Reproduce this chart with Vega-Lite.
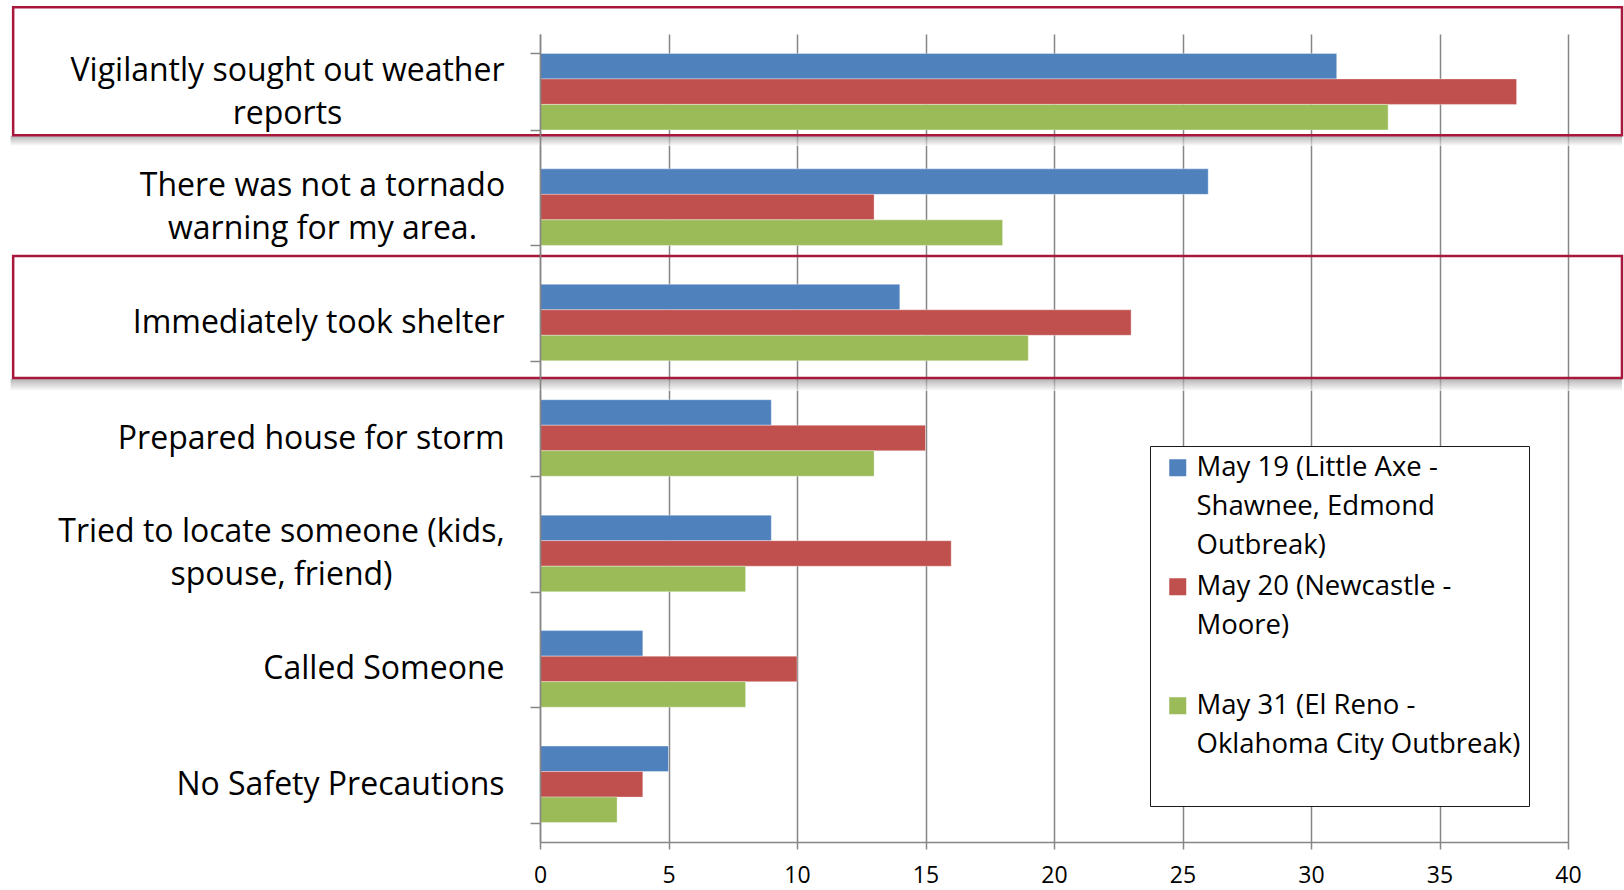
{
  "$schema": "https://vega.github.io/schema/vega-lite/v6.json",
  "width": 1028,
  "height": 808,
  "autosize": {"type": "none"},
  "padding": {"left": 540, "top": 34, "right": 56, "bottom": 48},
  "background": "white",
  "config": {
    "view": {"stroke": null},
    "font": "Open Sans",
    "style": {"guide-label": {"lineHeight": 39}}
  },
  "datasets": {
    "responses": [
      {"item": "Vigilantly sought out weather reports", "series": "May 19 (Little Axe - Shawnee, Edmond Outbreak)", "count": 31},
      {"item": "Vigilantly sought out weather reports", "series": "May 20 (Newcastle - Moore)", "count": 38},
      {"item": "Vigilantly sought out weather reports", "series": "May 31 (El Reno - Oklahoma City Outbreak)", "count": 33},
      {"item": "There was not a tornado warning for my area.", "series": "May 19 (Little Axe - Shawnee, Edmond Outbreak)", "count": 26},
      {"item": "There was not a tornado warning for my area.", "series": "May 20 (Newcastle - Moore)", "count": 13},
      {"item": "There was not a tornado warning for my area.", "series": "May 31 (El Reno - Oklahoma City Outbreak)", "count": 18},
      {"item": "Immediately took shelter", "series": "May 19 (Little Axe - Shawnee, Edmond Outbreak)", "count": 14},
      {"item": "Immediately took shelter", "series": "May 20 (Newcastle - Moore)", "count": 23},
      {"item": "Immediately took shelter", "series": "May 31 (El Reno - Oklahoma City Outbreak)", "count": 19},
      {"item": "Prepared house for storm", "series": "May 19 (Little Axe - Shawnee, Edmond Outbreak)", "count": 9},
      {"item": "Prepared house for storm", "series": "May 20 (Newcastle - Moore)", "count": 15},
      {"item": "Prepared house for storm", "series": "May 31 (El Reno - Oklahoma City Outbreak)", "count": 13},
      {"item": "Tried to locate someone (kids, spouse, friend)", "series": "May 19 (Little Axe - Shawnee, Edmond Outbreak)", "count": 9},
      {"item": "Tried to locate someone (kids, spouse, friend)", "series": "May 20 (Newcastle - Moore)", "count": 16},
      {"item": "Tried to locate someone (kids, spouse, friend)", "series": "May 31 (El Reno - Oklahoma City Outbreak)", "count": 8},
      {"item": "Called Someone", "series": "May 19 (Little Axe - Shawnee, Edmond Outbreak)", "count": 4},
      {"item": "Called Someone", "series": "May 20 (Newcastle - Moore)", "count": 10},
      {"item": "Called Someone", "series": "May 31 (El Reno - Oklahoma City Outbreak)", "count": 8},
      {"item": "No Safety Precautions", "series": "May 19 (Little Axe - Shawnee, Edmond Outbreak)", "count": 5},
      {"item": "No Safety Precautions", "series": "May 20 (Newcastle - Moore)", "count": 4},
      {"item": "No Safety Precautions", "series": "May 31 (El Reno - Oklahoma City Outbreak)", "count": 3}
    ],
    "box1": [{"item": "Vigilantly sought out weather reports"}],
    "box2": [{"item": "Immediately took shelter"}]
  },
  "layer": [
    {
      "data": {"name": "box1"},
      "mark": {"type": "rect", "height": 10, "yOffset": 49.4, "color": {"gradient": "linear", "x1": 0, "y1": 0, "x2": 0, "y2": 1, "stops": [{"offset": 0, "color": "#8f8f8f"}, {"offset": 1, "color": "#ffffff"}]}, "opacity": 0.65},
      "encoding": {
        "y": {"field": "item", "type": "nominal"},
        "x": {"datum": -20.6},
        "x2": {"datum": 42.1}
      }
    },
    {
      "data": {"name": "box2"},
      "mark": {"type": "rect", "height": 12, "yOffset": 62.5, "color": {"gradient": "linear", "x1": 0, "y1": 0, "x2": 0, "y2": 1, "stops": [{"offset": 0, "color": "#8f8f8f"}, {"offset": 1, "color": "#ffffff"}]}, "opacity": 0.65},
      "encoding": {
        "y": {"field": "item", "type": "nominal"},
        "x": {"datum": -20.6},
        "x2": {"datum": 42.1}
      }
    },
    {
      "data": {"name": "responses"},
      "mark": {"type": "bar", "stroke": "white", "strokeOpacity": 0.35, "strokeWidth": 1},
      "encoding": {
        "y": {
          "field": "item",
          "type": "nominal",
          "sort": null,
          "scale": {
            "domain": [
              "Vigilantly sought out weather reports",
              "There was not a tornado warning for my area.",
              "Immediately took shelter",
              "Prepared house for storm",
              "Tried to locate someone (kids, spouse, friend)",
              "Called Someone",
              "No Safety Precautions"
            ],
            "paddingInner": 0.337,
            "paddingOuter": 0.168
          },
          "axis": {
            "title": null,
            "tickBand": "extent",
            "ticks": true,
            "tickSize": 10,
            "tickColor": "#868686",
            "tickWidth": 1.5,
            "domainColor": "#868686",
            "domainWidth": 1.5,
            "grid": false,
            "labelFont": "Open Sans",
            "labelFontSize": 32,
            "labelColor": "black",
            "labelLimit": 700,
            "labelLineHeight": 43,
            "labelExpr": "datum.value == 'Vigilantly sought out weather reports' ? ['Vigilantly sought out weather', 'reports'] : datum.value == 'There was not a tornado warning for my area.' ? ['There was not a tornado', 'warning for my area.'] : datum.value == 'Tried to locate someone (kids, spouse, friend)' ? ['Tried to locate someone (kids,', 'spouse, friend)'] : datum.value",
            "labelAlign": {
              "condition": {"test": "indexof(['Vigilantly sought out weather reports', 'There was not a tornado warning for my area.', 'Tried to locate someone (kids, spouse, friend)'], datum.value) >= 0", "value": "center"},
              "value": "right"
            },
            "labelOffset": {
              "condition": {"test": "indexof(['Vigilantly sought out weather reports', 'There was not a tornado warning for my area.', 'Tried to locate someone (kids, spouse, friend)'], datum.value) >= 0", "value": -21.5},
              "value": 0
            },
            "labelPadding": {
              "condition": [
                {"test": "datum.value == 'Vigilantly sought out weather reports'", "value": 243},
                {"test": "datum.value == 'There was not a tornado warning for my area.'", "value": 208},
                {"test": "datum.value == 'Tried to locate someone (kids, spouse, friend)'", "value": 249}
              ],
              "value": 26
            }
          }
        },
        "x": {
          "field": "count",
          "type": "quantitative",
          "scale": {"domain": [0, 40], "nice": false},
          "axis": {
            "title": null,
            "values": [0, 5, 10, 15, 20, 25, 30, 35, 40],
            "grid": true,
            "gridColor": "#868686",
            "gridWidth": 1.5,
            "tickSize": 7,
            "tickColor": "#868686",
            "tickWidth": 1.5,
            "domainColor": "#868686",
            "domainWidth": 1.5,
            "labelFont": "Open Sans",
            "labelFontSize": 23,
            "labelColor": "black",
            "labelPadding": 15,
            "labelFlush": false
          }
        },
        "yOffset": {
          "field": "series",
          "type": "nominal",
          "sort": [
            "May 19 (Little Axe - Shawnee, Edmond Outbreak)",
            "May 20 (Newcastle - Moore)",
            "May 31 (El Reno - Oklahoma City Outbreak)"
          ],
          "scale": {"paddingInner": 0, "paddingOuter": 0}
        },
        "color": {
          "field": "series",
          "type": "nominal",
          "scale": {
            "domain": [
              "May 19 (Little Axe - Shawnee, Edmond Outbreak)",
              "May 20 (Newcastle - Moore)",
              "May 31 (El Reno - Oklahoma City Outbreak)"
            ],
            "range": ["#4F81BD", "#C0504D", "#9BBB59"]
          },
          "legend": {
            "orient": "none",
            "legendX": 610,
            "legendY": 412,
            "title": null,
            "fillColor": "white",
            "strokeColor": "#1a1a1a",
            "padding": 8,
            "symbolType": "square",
            "symbolSize": 289,
            "symbolStrokeWidth": 0,
            "symbolOffset": 6,
            "labelFont": "Open Sans",
            "labelFontSize": 27.5,
            "labelColor": "black",
            "labelLimit": 1000,
            "labelOffset": 5,
            "labelBaseline": "middle",
            "rowPadding": 12,
            "labelExpr": "datum.label == 'May 19 (Little Axe - Shawnee, Edmond Outbreak)' ? ['May 19 (Little Axe -', 'Shawnee, Edmond', 'Outbreak)'] : datum.label == 'May 20 (Newcastle - Moore)' ? ['May 20 (Newcastle -', 'Moore)', ' '] : ['May 31 (El Reno -', 'Oklahoma City Outbreak)', ' ']"
          }
        }
      }
    },
    {
      "data": {"name": "box1"},
      "mark": {"type": "rect", "height": 128, "yOffset": -20.4, "filled": false, "stroke": "#a8183c", "strokeWidth": 2.5},
      "encoding": {
        "y": {"field": "item", "type": "nominal"},
        "x": {"datum": -20.5},
        "x2": {"datum": 42.1}
      }
    },
    {
      "data": {"name": "box2"},
      "mark": {"type": "rect", "height": 122, "yOffset": -5.6, "filled": false, "stroke": "#a8183c", "strokeWidth": 2.5},
      "encoding": {
        "y": {"field": "item", "type": "nominal"},
        "x": {"datum": -20.5},
        "x2": {"datum": 42.1}
      }
    }
  ]
}
